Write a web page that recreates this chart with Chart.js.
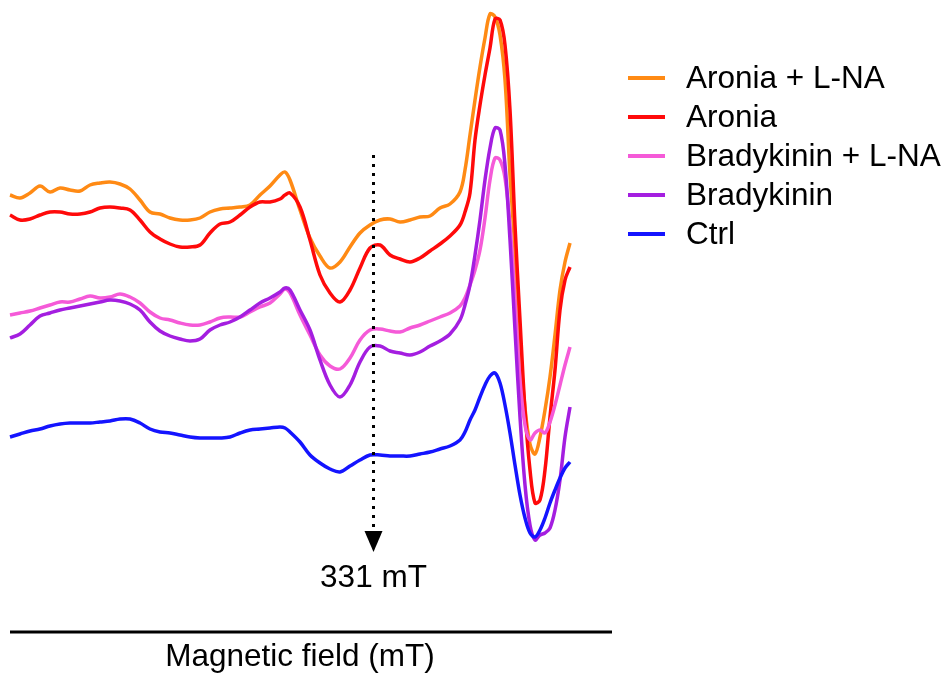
<!DOCTYPE html>
<html>
<head>
<meta charset="utf-8">
<script src="https://cdn.jsdelivr.net/npm/chart.js@4.4.1/dist/chart.umd.min.js"></script>
<style>
  html, body { margin: 0; padding: 0; background: #fff; }
  #chart { display: block; }
</style>
</head>
<body>
<canvas id="chart" width="943" height="674"></canvas>
<script>
// field position along the sweep (arbitrary units, no ticks on the original axis)
const field = [
  0, 10, 20, 30, 40, 50, 60, 70, 80, 90, 100, 110, 120, 130, 140, 150, 160, 170, 180, 190,
  200, 210, 220, 230, 240, 250, 260, 270, 275, 280, 290, 300, 310, 320, 330, 340, 350, 360,
  370, 380, 390, 400, 410, 420, 430, 440, 450, 455, 460, 465, 470, 475, 480, 485, 490, 495,
  500, 505, 510, 515, 520, 525, 530, 535, 540, 545, 550, 555, 560
];

// signal (a.u., stacked offsets as in the figure)
const aroniaLna = [
  437, 434, 439, 446, 440, 444, 442, 441, 447, 449, 450, 448, 443, 432, 420, 418, 414, 412, 412, 414,
  420, 423, 424, 425, 427, 437, 446, 457, 460, 452, 422, 394, 376, 364, 370, 385, 399, 407,
  412, 413, 410, 412, 415, 416, 424, 428, 440, 462, 497, 532, 565, 594, 618, 615,
  597, 552, 457, 382, 287, 224, 188, 178, 195, 222, 255, 297, 342, 370, 389
];
const aronia = [
  417, 412, 413, 417, 420, 420, 418, 418, 420, 424, 425, 424, 422, 412, 400, 393, 388, 385, 385, 387,
  399, 408, 410, 417, 425, 430, 430, 433, 437, 439, 425, 392, 357, 339, 330, 342, 364, 384,
  387, 377, 373, 370, 374, 381, 388, 396, 407, 420, 439, 492, 527, 557, 584, 613,
  612, 587, 522, 407, 312, 222, 162, 129, 132, 162, 215, 262, 322, 352, 365
];
const bradykininLna = [
  317, 319, 321, 324, 327, 330, 330, 333, 336, 334, 335, 338, 335, 329, 320, 314, 312, 309, 307, 307,
  310, 314, 315, 315, 320, 325, 329, 338, 343, 339, 317, 297, 277, 266, 263, 274, 292, 302,
  303, 301, 300, 304, 307, 311, 315, 319, 326, 334, 347, 362, 382, 414, 452, 474,
  472, 454, 407, 332, 252, 207, 192, 199, 202, 199, 210, 227, 247, 267, 285
];
const bradykinin = [
  294, 298, 307, 316, 319, 322, 324, 326, 328, 330, 332, 331, 328, 322, 310, 301, 296, 293, 291, 293,
  302, 307, 310, 315, 322, 329, 334, 340, 344, 342, 322, 302, 272, 247, 235, 247, 270, 285,
  286, 281, 279, 277, 280, 286, 291, 298, 312, 327, 347, 377, 412, 452, 484, 504,
  502, 467, 392, 302, 215, 147, 107, 92, 97, 99, 104, 122, 152, 195, 225
];
const ctrl = [
  195, 198, 201, 203, 206, 208, 209, 209, 209, 210, 211, 213, 213, 209, 203, 200, 199, 197, 195, 194,
  194, 194, 195, 199, 202, 203, 204, 205, 204, 200, 190, 177, 169, 163, 160, 166, 172, 177,
  177, 176, 176, 176, 178, 180, 183, 186, 192, 200, 212, 222, 235, 247, 256, 259,
  249, 227, 199, 167, 137, 114, 99, 95, 102, 114, 129, 142, 154, 164, 170
];

const seriesNames = ['Aronia + L-NA', 'Aronia', 'Bradykinin + L-NA', 'Bradykinin', 'Ctrl'];
const seriesColors = ['#ff8a14', '#ff0a0a', '#f55ad8', '#a41ee0', '#1414ff'];
const seriesValues = [aroniaLna, aronia, bradykininLna, bradykinin, ctrl];

const markerField = 363;      // 331 mT
const markerLabel = '331 mT';
const xTitle = 'Magnetic field (mT)';

const FONT = '31.5px Arial, "Liberation Sans", sans-serif';

const overlay = {
  id: 'overlay',
  afterDraw(chart) {
    const { ctx, chartArea, scales } = chart;
    ctx.save();
    // x axis line
    ctx.strokeStyle = '#000';
    ctx.lineWidth = 3;
    ctx.beginPath();
    ctx.moveTo(chartArea.left, chartArea.bottom);
    ctx.lineTo(chartArea.right, chartArea.bottom);
    ctx.stroke();

    ctx.fillStyle = '#000';
    ctx.font = FONT;
    ctx.textAlign = 'center';
    ctx.textBaseline = 'middle';
    ctx.fillText(xTitle, 300, 657);

    // dotted arrow at 331 mT
    const mx = Math.round(scales.x.getPixelForValue(markerField)) + 0.5;
    ctx.setLineDash([3, 6]);
    ctx.lineWidth = 3;
    ctx.beginPath();
    ctx.moveTo(mx, 155);
    ctx.lineTo(mx, 532);
    ctx.stroke();
    ctx.setLineDash([]);
    ctx.beginPath();
    ctx.moveTo(mx - 9, 531);
    ctx.lineTo(mx + 9, 531);
    ctx.lineTo(mx, 552);
    ctx.closePath();
    ctx.fill();
    ctx.fillText(markerLabel, mx, 578);

    // legend
    ctx.textAlign = 'left';
    seriesNames.forEach((name, i) => {
      const y = 78 + i * 39;
      ctx.strokeStyle = seriesColors[i];
      ctx.lineWidth = 4;
      ctx.beginPath();
      ctx.moveTo(628, y);
      ctx.lineTo(665, y);
      ctx.stroke();
      ctx.fillStyle = '#000';
      ctx.fillText(name, 686, y + 1);
    });
    ctx.restore();
  }
};

new Chart(document.getElementById('chart').getContext('2d'), {
  type: 'line',
  data: {
    datasets: seriesNames.map((name, i) => ({
      label: name,
      data: field.map((x, j) => ({ x, y: seriesValues[i][j] })),
      borderColor: seriesColors[i],
      borderWidth: 3.5,
      pointRadius: 0,
      tension: 0.35,
      fill: false,
      clip: false
    })).reverse()
  },
  options: {
    responsive: false,
    animation: false,
    layout: { padding: { left: 10, top: 10, right: 331, bottom: 42 } },
    scales: {
      x: { type: 'linear', min: 0, max: 602, display: false },
      y: { min: 0, max: 622, display: false }
    },
    plugins: { legend: { display: false }, tooltip: { enabled: false } }
  },
  plugins: [overlay]
});
</script>
</body>
</html>
